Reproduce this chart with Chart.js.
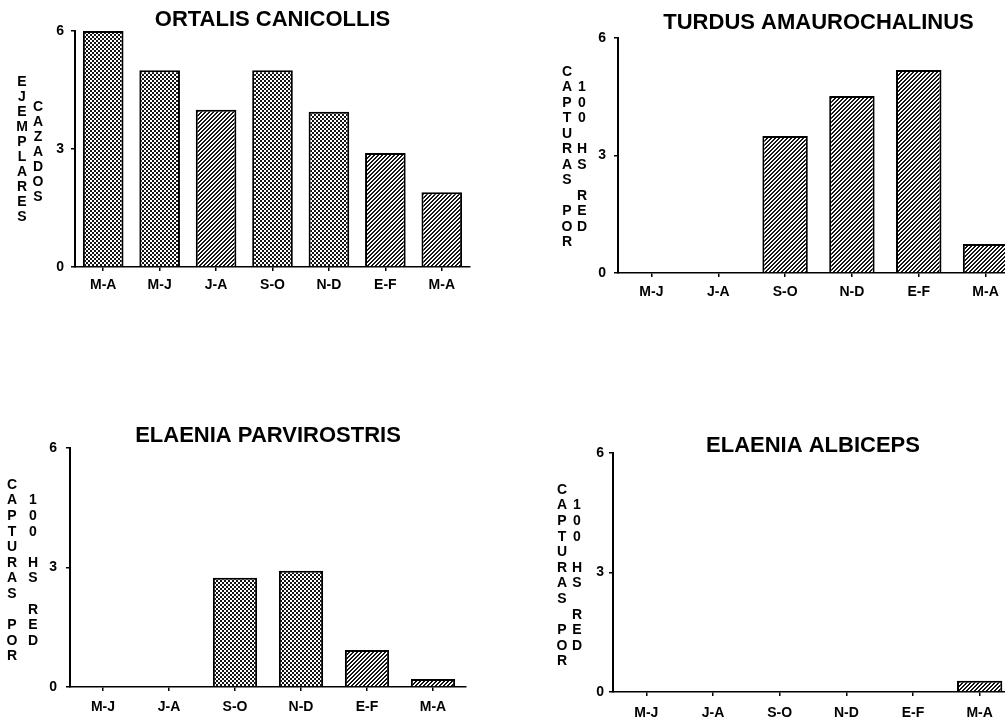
<!DOCTYPE html>
<html>
<head>
<meta charset="utf-8">
<script src="https://cdn.jsdelivr.net/npm/chart.js@4.4.1/dist/chart.umd.min.js"></script>
<style>
  html, body { margin: 0; padding: 0; background: #fff; overflow: hidden; }
  body { width: 1005px; height: 722px; position: relative; }
  canvas { position: absolute; }
</style>
</head>
<body>
<canvas id="ortalis"></canvas>
<canvas id="turdus"></canvas>
<canvas id="parvirostris"></canvas>
<canvas id="albiceps"></canvas>
<script>
// two-month periods on the x axis
const periodsLong = ["M-A", "M-J", "J-A", "S-O", "N-D", "E-F", "M-A"];
const periodsShort = ["M-J", "J-A", "S-O", "N-D", "E-F", "M-A"];

// specimens hunted / captures per 100 net hours
const ortalisValues = [6, 5, 4, 5, 3.95, 2.9, 1.9];
const turdusValues = [0, 0, 3.5, 4.52, 5.18, 0.74];
const parvirostrisValues = [0, 0, 2.74, 2.92, 0.93, 0.2];
const albicepsValues = [0, 0, 0, 0, 0, 0.28];

const yTicks = [0, 3, 6];

const FONT = '"Liberation Sans", Arial, Helvetica, sans-serif';

// little bitmap tiles used as bar fills
function makePattern(kind) {
  const size = 4;
  const tile = document.createElement("canvas");
  tile.width = size;
  tile.height = size;
  const tctx = tile.getContext("2d");
  const img = tctx.createImageData(size, size);
  for (let y = 0; y < size; y++) {
    for (let x = 0; x < size; x++) {
      let dark;
      if (kind === "check") {
        dark = ((Math.floor(x / 2) + Math.floor(y / 2)) % 2) === 0;
      } else {
        dark = ((x + y) % 4) < 2;
      }
      const v = dark ? 20 : 255;
      const i = (y * size + x) * 4;
      img.data[i] = v;
      img.data[i + 1] = v;
      img.data[i + 2] = v;
      img.data[i + 3] = 255;
    }
  }
  tctx.putImageData(img, 0, 0);
  return tctx.createPattern(tile, "repeat");
}

const check = makePattern("check");
const hatch = makePattern("hatch");

// upright, letter-by-letter axis captions
const stackedTitle = {
  id: "stackedTitle",
  afterDraw(chart, args, opts) {
    const ctx = chart.ctx;
    ctx.save();
    ctx.font = "bold 14px " + FONT;
    ctx.fillStyle = "#000";
    ctx.textAlign = "center";
    ctx.textBaseline = "middle";
    opts.columns.forEach((col) => {
      [...col.text].forEach((ch, i) => {
        ctx.fillText(ch, col.x, col.y + i * opts.step);
      });
    });
    ctx.restore();
  },
};

function makePanel(id, title, labels, values, fills, g) {
  const canvas = document.getElementById(id);
  canvas.width = g.w;
  canvas.height = g.h;
  canvas.style.left = g.x + "px";
  canvas.style.top = g.y + "px";

  const titleSize = 22;
  const titleLH = 0.6;
  const half = (titleSize * titleLH) / 2;

  return new Chart(canvas, {
    type: "bar",
    data: {
      labels: labels,
      datasets: [
        {
          data: values,
          backgroundColor: fills,
          borderColor: "#000",
          borderWidth: 2,
          borderSkipped: "bottom",
          categoryPercentage: 1,
          barPercentage: g.barPct,
        },
      ],
    },
    options: {
      responsive: false,
      devicePixelRatio: 1,
      animation: false,
      layout: {
        padding: {
          left: g.left - g.yW,
          right: g.w - g.right,
          top: 0,
          bottom: g.h - g.bottom - g.xH,
        },
      },
      plugins: {
        legend: { display: false },
        tooltip: { enabled: false },
        title: {
          display: true,
          text: title,
          fullSize: false,
          color: "#000",
          font: { family: FONT, size: titleSize, weight: "bold", lineHeight: titleLH },
          padding: { top: g.titleY - half, bottom: g.top - g.titleY - half },
        },
        stackedTitle: { columns: g.caption, step: g.step },
      },
      scales: {
        x: {
          afterFit: (s) => { s.height = g.xH; },
          grid: {
            offset: false,
            drawOnChartArea: false,
            drawTicks: true,
            tickLength: 4,
            color: "#000",
            lineWidth: 1.5,
          },
          border: { display: true, color: "#000", width: 1.5 },
          ticks: {
            color: "#000",
            padding: g.xPad,
            maxRotation: 0,
            font: { family: FONT, size: 14, weight: "bold" },
          },
        },
        y: {
          min: 0,
          max: 6,
          afterFit: (s) => { s.width = g.yW; },
          afterBuildTicks: (s) => { s.ticks = yTicks.map((v) => ({ value: v })); },
          grid: {
            drawOnChartArea: false,
            drawTicks: true,
            tickLength: 4,
            color: "#000",
            lineWidth: 1.5,
          },
          border: { display: true, color: "#000", width: 2 },
          ticks: {
            color: "#000",
            padding: g.yPad,
            font: { family: FONT, size: 14, weight: "bold" },
          },
        },
      },
    },
    plugins: [stackedTitle],
  });
}

makePanel("ortalis", "ORTALIS CANICOLLIS", periodsLong, ortalisValues,
  [check, check, hatch, check, check, hatch, hatch],
  {
    x: 0, y: 0, w: 490, h: 300,
    left: 75, top: 31, right: 470, bottom: 267,
    titleY: 20, yW: 30, xH: 30, xPad: 5.6, yPad: 7, barPct: 0.72,
    caption: [
      { text: "EJEMPLARES", x: 22, y: 82.5 },
      { text: "CAZADOS", x: 38, y: 107 },
    ],
    step: 15,
  });

makePanel("turdus", "TURDUS AMAUROCHALINUS", periodsShort, turdusValues,
  hatch,
  {
    x: 520, y: 0, w: 520, h: 300,
    left: 98, top: 38, right: 499, bottom: 273,
    titleY: 23, yW: 30, xH: 25, xPad: 6.6, yPad: 8, barPct: 0.68,
    caption: [
      { text: "CAPTURAS POR", x: 47, y: 72 },
      { text: " 100 HS RED", x: 62, y: 72 },
    ],
    step: 15.5,
  });

makePanel("parvirostris", "ELAENIA PARVIROSTRIS", periodsShort, parvirostrisValues,
  [check, check, check, check, hatch, hatch],
  {
    x: 0, y: 420, w: 490, h: 302,
    left: 70, top: 28, right: 466, bottom: 267,
    titleY: 15.5, yW: 30, xH: 32, xPad: 7.6, yPad: 9, barPct: 0.67,
    caption: [
      { text: "CAPTURAS POR", x: 12, y: 65 },
      { text: " 100 HS RED", x: 33, y: 65 },
    ],
    step: 15.6,
  });

makePanel("albiceps", "ELAENIA ALBICEPS", periodsShort, albicepsValues,
  hatch,
  {
    x: 520, y: 420, w: 520, h: 302,
    left: 93, top: 33, right: 493, bottom: 272,
    titleY: 26, yW: 30, xH: 30, xPad: 8.6, yPad: 5, barPct: 0.68,
    caption: [
      { text: "CAPTURAS POR", x: 42, y: 70 },
      { text: " 100 HS RED", x: 57, y: 70 },
    ],
    step: 15.6,
  });
</script>
</body>
</html>
